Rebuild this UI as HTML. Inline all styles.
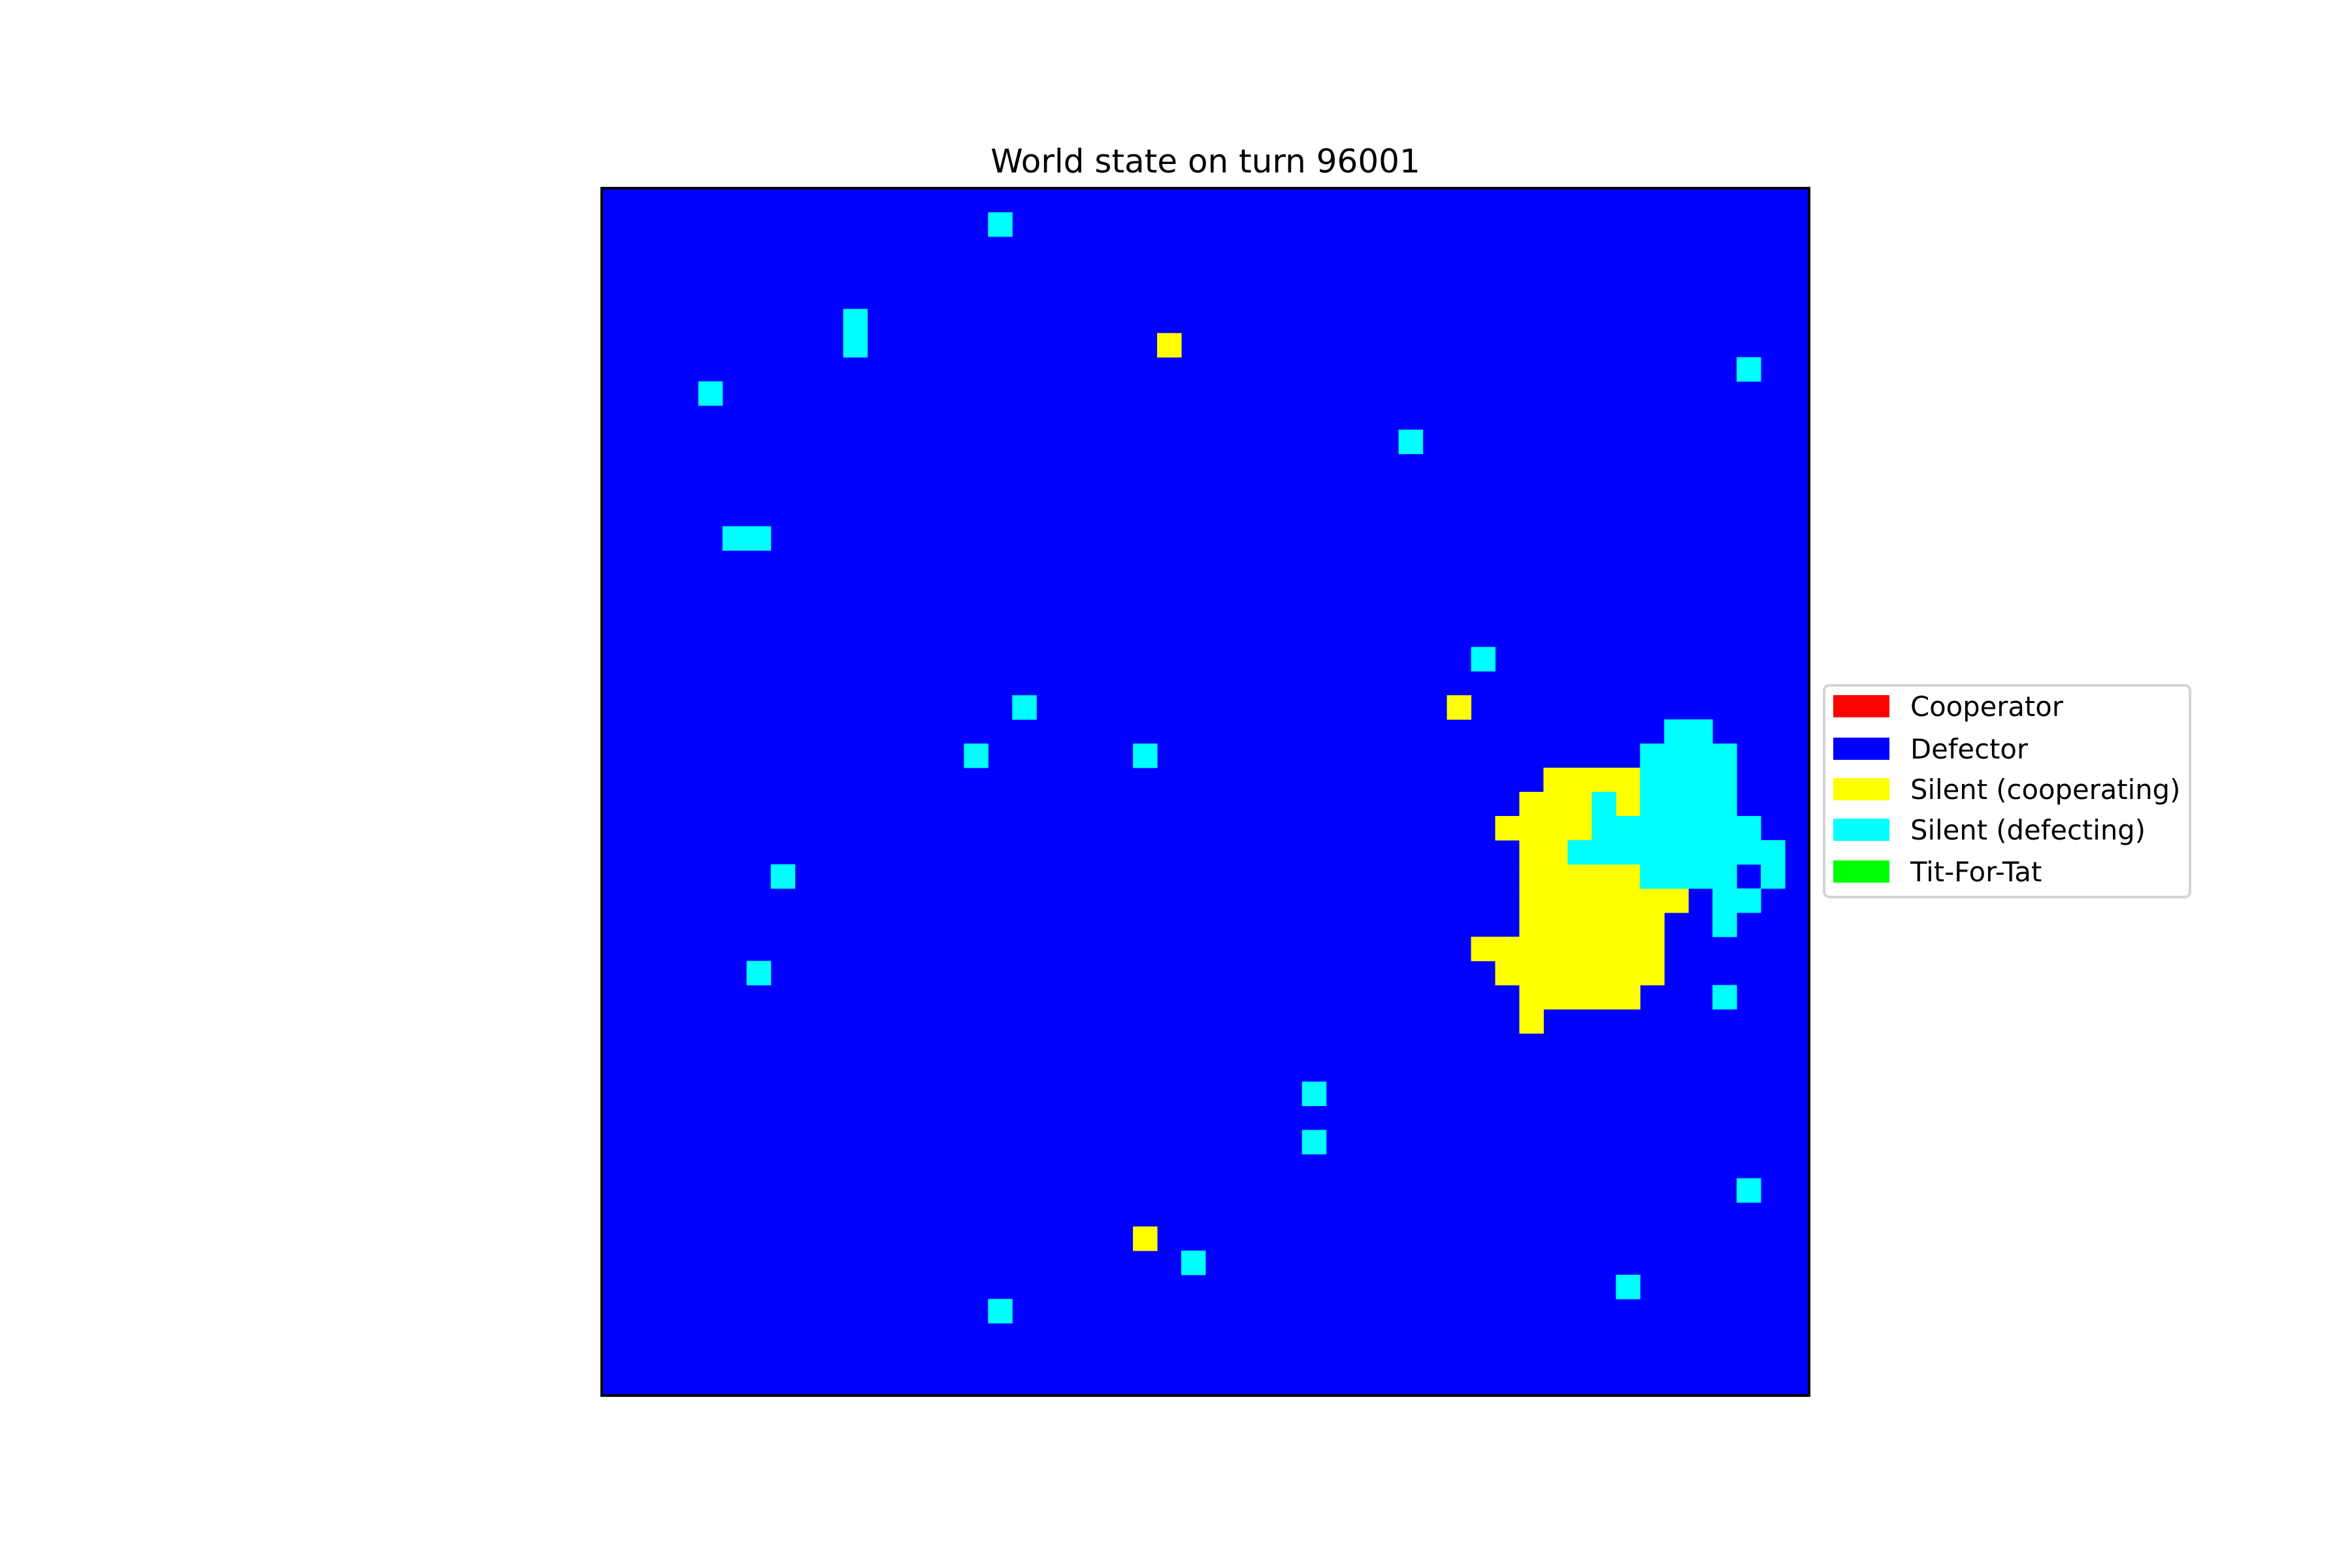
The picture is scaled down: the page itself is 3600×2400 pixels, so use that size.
<!DOCTYPE html>
<html><head><meta charset="utf-8"><style>
html,body{margin:0;padding:0;background:#fff;}
svg{display:block;}
text{font-family:"DejaVu Sans","Liberation Sans",sans-serif;}
</style></head><body>
<svg id="fig" width="3600" height="2400" viewBox="0 0 3600 2400" xmlns="http://www.w3.org/2000/svg">
<rect x="0" y="0" width="3600" height="2400" fill="#fff"/>
<text x="1845" y="264" font-size="50" text-anchor="middle" fill="#000">World state on turn 96001</text>
<g id="grid"></g>
<rect x="921" y="288" width="1848" height="1848" fill="none" stroke="#000" stroke-width="4"/>
<g>
<rect x="2792" y="1049" width="560" height="324" rx="8" fill="#fff" stroke="#d4d4d4" stroke-width="4"/>
<g id="legendItems"></g>
</g>
</svg>
<script>
const gridSize = 50;
const cellTypes = ["Cooperator","Defector","Silent (cooperating)","Silent (defecting)","Tit-For-Tat"];
const typeColors = ["#ff0000","#0000ff","#ffff00","#00ffff","#00ff00"];
const backgroundType = 1;
// [col,row] cells
const yellowCells = [[23,6],[35,21],[22,43],
 [39,24],[40,24],[41,24],[42,24],
 [38,25],[39,25],[40,25],[42,25],
 [37,26],[38,26],[39,26],[40,26],
 [38,27],[39,27],
 [38,28],[39,28],[40,28],[41,28],[42,28],
 [38,29],[39,29],[40,29],[41,29],[42,29],[43,29],[44,29],
 [38,30],[39,30],[40,30],[41,30],[42,30],[43,30],
 [36,31],[37,31],[38,31],[39,31],[40,31],[41,31],[42,31],[43,31],
 [37,32],[38,32],[39,32],[40,32],[41,32],[42,32],[43,32],
 [38,33],[39,33],[40,33],[41,33],[42,33],
 [38,34]];
const cyanCells = [[16,1],[10,5],[10,6],[47,7],[4,8],[33,10],[5,14],[6,14],[36,19],[17,21],[15,23],[22,23],[7,28],[6,32],[29,37],[29,39],[47,41],[24,44],[42,45],[16,46],
 [44,22],[45,22],
 [43,23],[44,23],[45,23],[46,23],
 [43,24],[44,24],[45,24],[46,24],
 [41,25],[43,25],[44,25],[45,25],[46,25],
 [41,26],[42,26],[43,26],[44,26],[45,26],[46,26],[47,26],
 [40,27],[41,27],[42,27],[43,27],[44,27],[45,27],[46,27],[47,27],[48,27],
 [43,28],[44,28],[45,28],[46,28],[48,28],
 [46,29],[47,29],
 [46,30],
 [46,33]];

const X0=921, Y0=288, W=1848;
const cs = W/gridSize;
const xs = c => X0 + c*cs;
const ys = r => Y0 + r*cs;
const NS="http://www.w3.org/2000/svg";
const g=document.getElementById('grid');
const bg=document.createElementNS(NS,'rect');
bg.setAttribute('x',xs(0));bg.setAttribute('y',ys(0));
bg.setAttribute('width',xs(gridSize)-xs(0));bg.setAttribute('height',ys(gridSize)-ys(0));
bg.setAttribute('fill',typeColors[backgroundType]);


g.appendChild(bg);
function drawCells(list,color,name){
  list.forEach(([c,r])=>{
    const el=document.createElementNS(NS,'rect');
    el.setAttribute('x',xs(c));el.setAttribute('y',ys(r));
    el.setAttribute('width',cs+0.5);el.setAttribute('height',cs+0.5);
    el.setAttribute('fill',color);
    
    
    g.appendChild(el);
  });
}
drawCells(yellowCells,typeColors[2],'silent-cooperating-cell');
drawCells(cyanCells,typeColors[3],'silent-defecting-cell');

const li=document.getElementById('legendItems');
const legendY=[1081,1146,1208,1270,1334];
cellTypes.forEach((t,i)=>{
  const r=document.createElementNS(NS,'rect');
  r.setAttribute('x',2806);r.setAttribute('y',legendY[i]-17);
  r.setAttribute('width',86);r.setAttribute('height',34);
  r.setAttribute('fill',typeColors[i]);
  
  
  li.appendChild(r);
  const tx=document.createElementNS(NS,'text');
  tx.setAttribute('x',2924);tx.setAttribute('y',legendY[i]+15);
  tx.setAttribute('font-size','41.7');
  tx.textContent=t;
  
  
  li.appendChild(tx);
});
</script>
</body></html>
